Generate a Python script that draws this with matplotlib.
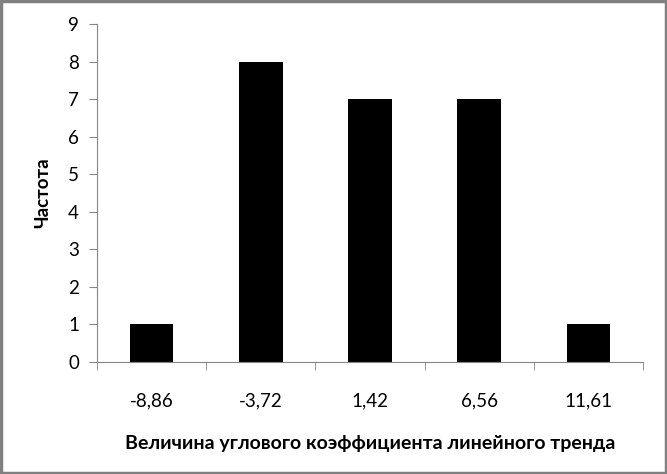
import numpy as np
import matplotlib.pyplot as plt
from matplotlib.patches import Rectangle

categories = ["-8,86", "-3,72", "1,42", "6,56", "11,61"]
freq = [1, 8, 7, 7, 1]

plt.rcParams["font.family"] = ["Lato", "DejaVu Sans"]

fig = plt.figure(figsize=(6.67, 4.74), dpi=100)
ax = fig.add_axes([97 / 667, 1 - 362 / 474, 546 / 667, 338 / 474])

x = np.arange(len(categories))
ax.bar(x, freq, width=0.4, color="black")

ax.set_xlim(-0.5, len(categories) - 0.5)
ax.set_ylim(0, 9)
ax.set_yticks(range(0, 10))
ax.set_xticks(x)
ax.set_xticklabels(categories)
# ticks between categories
ax.set_xticks(np.arange(-0.5, len(categories), 1), minor=True)
ax.tick_params(axis="x", which="major", length=0, pad=22, labelsize=13.5)
ax.tick_params(axis="x", which="minor", length=6, direction="out", color="#868686")
ax.tick_params(axis="y", length=6, direction="out", color="#868686", labelsize=13.5, pad=7)

for s in ["top", "right"]:
    ax.spines[s].set_visible(False)
for s in ["left", "bottom"]:
    ax.spines[s].set_color("#868686")

ax.set_ylabel("Частота", fontsize=13.5, fontweight="bold", labelpad=12)
ax.set_xlabel("Величина углового коэффициента линейного тренда",
              fontsize=14, fontweight="bold", labelpad=18)

# gray frame around the chart
fig.patches.append(Rectangle((0.002, 0.003), 0.996, 0.994, transform=fig.transFigure,
                             fill=False, edgecolor="#808080", linewidth=2.5))

fig.savefig("out.png", dpi=100)
